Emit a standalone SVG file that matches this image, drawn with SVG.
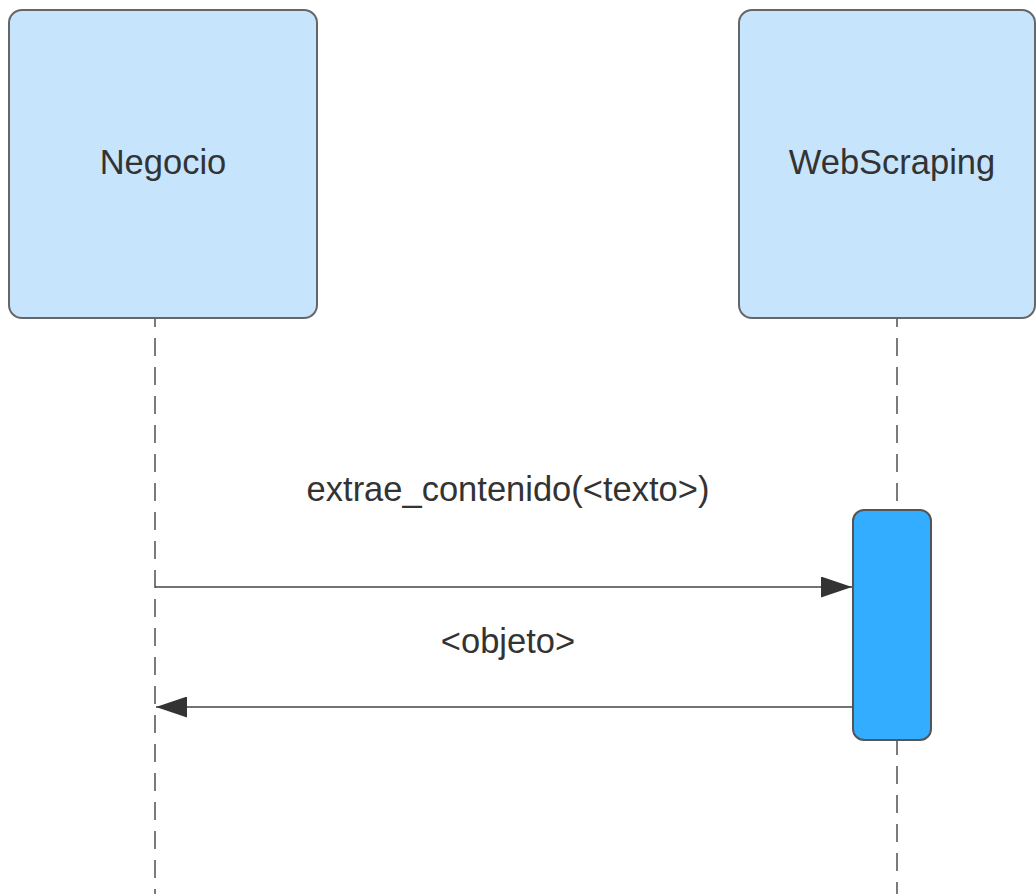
<svg xmlns="http://www.w3.org/2000/svg" width="1036" height="894" viewBox="0 0 1036 894">
<style>
.actor{fill:#c7e4fd;stroke:#666;stroke-width:2}
.act{fill:#33adff;stroke:#555;stroke-width:2}
.life{stroke:#7a7a7a;stroke-width:2;stroke-dasharray:18 11;fill:none}
.msg{stroke:#444;stroke-width:1.6;fill:none}
.lbl{font-family:"Liberation Sans",Arial,sans-serif;font-size:34.5px;fill:#333;text-anchor:middle}
</style>
<defs>
<marker id="ah" markerWidth="31" markerHeight="21" refX="31" refY="10.5" orient="auto" markerUnits="userSpaceOnUse">
<path d="M0,0 L31,10.5 L0,21 Z" fill="#333"/>
</marker>
</defs>
<g id="lifelines">
<path class="life" d="M155,319 V894" stroke-dashoffset="10"/>
<path class="life" d="M897,319 V510" stroke-dashoffset="10"/>
<path class="life" d="M897,741 V894" stroke-dashoffset="4"/>
</g>
<g id="node-negocio">
<rect class="actor" x="9" y="10" width="308" height="308" rx="13"/>
<text class="lbl" x="163" y="174">Negocio</text>
</g>
<g id="node-webscraping">
<rect class="actor" x="739" y="10" width="296" height="308" rx="13"/>
<text class="lbl" x="892" y="174">WebScraping</text>
</g>
<g id="activation">
<rect class="act" x="853" y="510" width="78" height="230" rx="11"/>
</g>
<g id="connectors">
<line class="msg" x1="155" y1="587" x2="852" y2="587" marker-end="url(#ah)"/>
<text class="lbl" x="508" y="501">extrae_contenido(&lt;texto&gt;)</text>
<line class="msg" x1="853" y1="707" x2="156" y2="707" marker-end="url(#ah)"/>
<text class="lbl" x="508" y="653">&lt;objeto&gt;</text>
</g>
</svg>
